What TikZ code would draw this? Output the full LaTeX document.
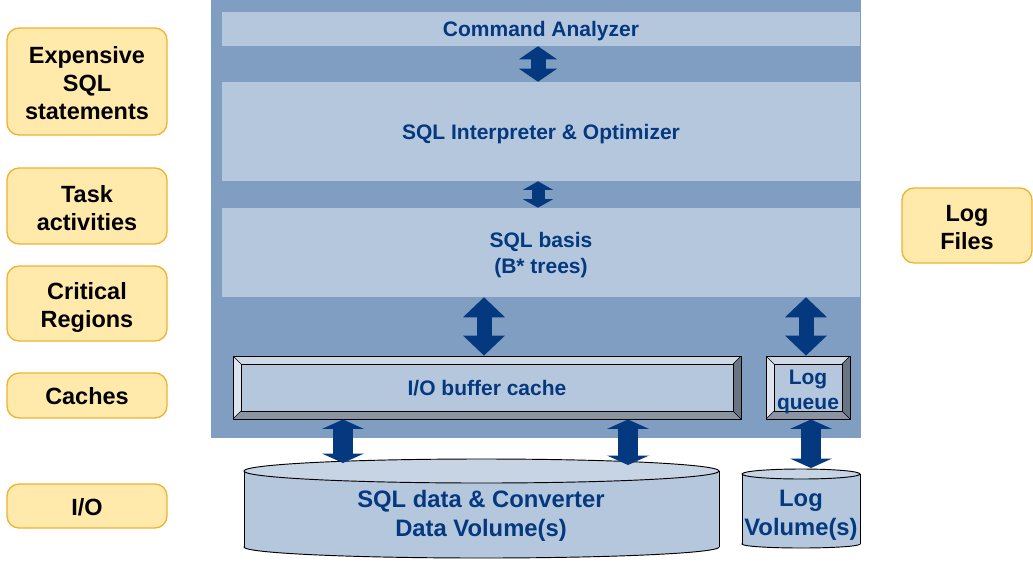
\documentclass[tikz,border=0pt]{standalone}
\usepackage{fontspec}
\setmainfont{Liberation Sans}
\usetikzlibrary{arrows.meta,calc}
\definecolor{panelblue}{HTML}{7F9EC2}
\definecolor{lightbox}{HTML}{B5C7DD}
\definecolor{darkblue}{HTML}{04387F}
\definecolor{notefill}{HTML}{FFE9AB}
\definecolor{notedraw}{HTML}{F0B232}
\definecolor{bevtop}{HTML}{CFD9E6}
\definecolor{bevleft}{HTML}{DDE4ED}
\definecolor{bevbot}{HTML}{8A95A3}
\definecolor{bevright}{HTML}{6A7584}
\definecolor{cyltop}{HTML}{C6D4E4}
\newcommand\dgBlueFont{\fontsize{15.75pt}{19.5pt}\selectfont\bfseries}
\newcommand\dgQueueFont{\fontsize{15.75pt}{18.75pt}\selectfont\bfseries}
\newcommand\dgNoteFont{\fontsize{17.6pt}{21pt}\selectfont\bfseries}
\newcommand\dgCylFont{\fontsize{17.85pt}{21.75pt}\selectfont\bfseries}
\newcommand\dgBv{6pt}
\begin{document}
\begin{tikzpicture}[x=0.75pt,y=-0.75pt,
  panel/.style={fill=panelblue, inner sep=0pt, minimum width=487.5pt, minimum height=328.5pt},
  layer/.style={fill=lightbox, inner sep=0pt, minimum width=478.5pt, text=darkblue, font=\dgBlueFont, align=center, text depth=0pt, text height=11.3pt},
  bevel/.style={fill=lightbox, draw=black, line width=0.7pt, inner sep=0pt, text=darkblue, align=center, text depth=0pt, text height=11.3pt,
    path picture={
      \path (path picture bounding box.north west) coordinate (bvNW)
            (path picture bounding box.north east) coordinate (bvNE)
            (path picture bounding box.south west) coordinate (bvSW)
            (path picture bounding box.south east) coordinate (bvSE);
      \fill[bevtop] (bvNW) -- (bvNE) -- ([shift={(-\dgBv,-\dgBv)}]bvNE) -- ([shift={(\dgBv,-\dgBv)}]bvNW) -- cycle;
      \fill[bevleft] (bvNW) -- (bvSW) -- ([shift={(\dgBv,\dgBv)}]bvSW) -- ([shift={(\dgBv,-\dgBv)}]bvNW) -- cycle;
      \fill[bevbot] (bvSW) -- (bvSE) -- ([shift={(-\dgBv,\dgBv)}]bvSE) -- ([shift={(\dgBv,\dgBv)}]bvSW) -- cycle;
      \fill[bevright] (bvNE) -- (bvSE) -- ([shift={(-\dgBv,\dgBv)}]bvSE) -- ([shift={(-\dgBv,-\dgBv)}]bvNE) -- cycle;
      \draw[line width=0.4pt] (bvNW) -- ([shift={(\dgBv,-\dgBv)}]bvNW)
                              (bvNE) -- ([shift={(-\dgBv,-\dgBv)}]bvNE)
                              (bvSW) -- ([shift={(\dgBv,\dgBv)}]bvSW)
                              (bvSE) -- ([shift={(-\dgBv,\dgBv)}]bvSE);
      \draw[line width=0.7pt] ([shift={(\dgBv,-\dgBv)}]bvNW) rectangle ([shift={(-\dgBv,\dgBv)}]bvSE);
    }},
  note/.style={fill=notefill, draw=notedraw, line width=1pt, rounded corners=9pt, inner sep=0pt,
    minimum width=120pt, align=center, font=\dgNoteFont, text depth=0pt, text height=13.6pt},
  cyltext/.style={text=darkblue, font=\dgCylFont, align=center, inner sep=0pt, text depth=0pt, text height=34.55pt},
  arrA/.style={draw=darkblue, line width=11.25pt,
    arrows={Triangle[width=28.5pt,length=9.75pt,line width=0pt]-Triangle[width=28.5pt,length=9.75pt,line width=0pt]}},
  arrB/.style={draw=darkblue, line width=9.75pt,
    arrows={Triangle[width=22.5pt,length=6.4pt,line width=0pt]-Triangle[width=22.5pt,length=6.4pt,line width=0pt]}},
  arrC/.style={draw=darkblue, line width=11.25pt,
    arrows={Triangle[width=31.5pt,length=15pt,line width=0pt]-Triangle[width=31.5pt,length=15pt,line width=0pt]}},
  arrD/.style={draw=darkblue, line width=15pt,
    arrows={Triangle[width=31.5pt,length=7.1pt,line width=0pt]-Triangle[width=31.5pt,length=7.1pt,line width=0pt]}}
]
\useasboundingbox (0,0) rectangle (1033,562);

% main panel and layers
\node[panel] (panel) at (536,219) {};
\node[layer, minimum height=25.5pt] (cmd) at (541,29) {Command Analyzer};
\node[layer, minimum height=74.25pt] (interp) at (541,131.5) {SQL Interpreter \& Optimizer};
\node[layer, minimum height=66.75pt, text height=30.8pt] (basis) at (541,252.5) {SQL basis\\(B* trees)};
\node[bevel, font=\dgBlueFont, minimum width=381pt, minimum height=47.25pt] (io) at (487,387.5) {I/O buffer cache};
\node[bevel, font=\dgQueueFont, minimum width=63pt, minimum height=47.25pt, text height=32.5pt] (lq) at (808,387.5) {Log\\queue};

% left notes
\node[note, minimum height=80.25pt, text height=57.6pt] (n1) at (87,81.5) {Expensive\\SQL\\statements};
\node[note, minimum height=57pt, text height=36.6pt] (n2) at (87,206) {Task\\activities};
\node[note, minimum height=56.25pt, text height=36.6pt] (n3) at (87,303.5) {Critical\\Regions};
\node[note, minimum height=33.75pt] (n4) at (87,395.5) {Caches};
\node[note, minimum height=33pt] (n5) at (87,506) {I/O};
\node[note, minimum width=97.5pt, minimum height=56.25pt, text height=36.6pt] (n6) at (967,225.5) {Log\\Files};

% big cylinder (data volumes)
\filldraw[fill=lightbox, draw=black, line width=0.7pt] (481.5,547) ellipse [x radius=178.125pt, y radius=8.25pt];
\fill[lightbox] (244,471) rectangle (719,547);
\draw[line width=0.7pt] (244,471) -- (244,547) (719,471) -- (719,547);
\filldraw[fill=cyltop, draw=black, line width=0.7pt] (481.5,471) ellipse [x radius=178.125pt, y radius=9pt];
\node[cyltext] (datavol) at (481,513.5) {SQL data \& Converter\\Data Volume(s)};

% small cylinder (log volumes)
\filldraw[fill=lightbox, draw=black, line width=0.7pt] (801,544) ellipse [x radius=44.25pt, y radius=3pt];
\fill[lightbox] (742,474) rectangle (860,544);
\draw[line width=0.7pt] (742,474) -- (742,544) (860,474) -- (860,544);
\filldraw[fill=cyltop, draw=black, line width=0.7pt] (801,474) ellipse [x radius=44.25pt, y radius=3.75pt];
\node[cyltext] (logvol) at (801,512.5) {Log\\Volume(s)};

% connector end points on the cylinder tops
\coordinate (dvA) at (343,463);
\coordinate (dvB) at (628,465);
\coordinate (lvA) at (811,468);

% arrows
\draw[arrA] ([xshift=-2.25pt]cmd.south) -- ([xshift=-2.25pt]interp.north);
\draw[arrB] ([xshift=-2.25pt]interp.south) -- ([xshift=-2.25pt]basis.north);
\draw[arrC] ([xshift=-2.25pt]basis.south -| io.north) -- ([xshift=-2.25pt]io.north);
\draw[arrC] ([xshift=-1.5pt]basis.south -| lq.north) -- ([xshift=-1.5pt]lq.north);
\draw[arrD] (io.south -| dvA) -- (dvA);
\draw[arrD] (io.south -| dvB) -- (dvB);
\draw[arrD] (lq.south -| lvA) -- (lvA);
\end{tikzpicture}
\end{document}
